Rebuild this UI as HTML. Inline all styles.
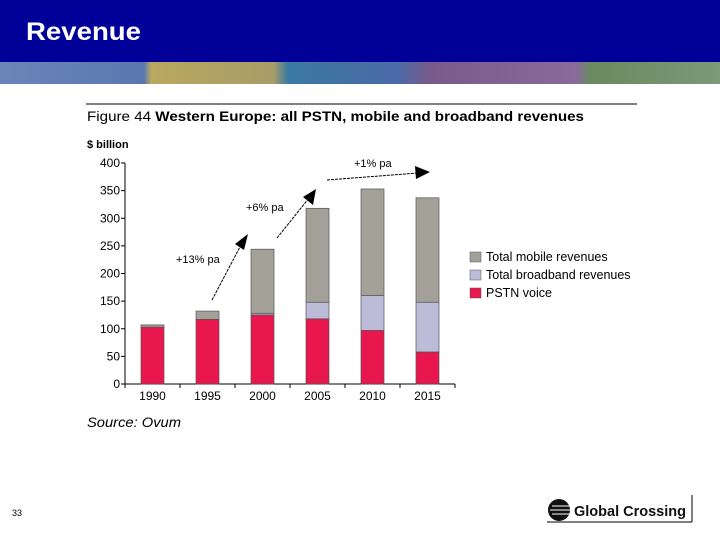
<!DOCTYPE html>
<html><head><meta charset="utf-8"><style>
body{margin:0;width:720px;height:540px;overflow:hidden;background:#fff;font-family:"Liberation Sans",sans-serif}
</style></head><body>
<svg width="720" height="540" xmlns="http://www.w3.org/2000/svg">
<defs>
<linearGradient id="strip" x1="0" x2="1" y1="0" y2="0">
<stop offset="0" stop-color="#6a86b8"/><stop offset="0.2" stop-color="#5a78b0"/>
<stop offset="0.21" stop-color="#b8a860"/><stop offset="0.38" stop-color="#a89c68"/>
<stop offset="0.4" stop-color="#3a7aa0"/><stop offset="0.55" stop-color="#4a6aa8"/>
<stop offset="0.6" stop-color="#7a5a8a"/><stop offset="0.8" stop-color="#8a6a9a"/>
<stop offset="0.82" stop-color="#6a8a60"/><stop offset="1" stop-color="#7a9a78"/>
</linearGradient>
</defs>
<rect x="0" y="0" width="720" height="62" fill="#000099"/>
<rect x="0" y="62" width="720" height="22" fill="url(#strip)"/>
<text x="26" y="40" font-size="25" font-weight="bold" fill="#fff" textLength="115" lengthAdjust="spacingAndGlyphs">Revenue</text>

<line x1="86" y1="104" x2="637" y2="104" stroke="#000" stroke-width="1"/>
<text x="87" y="121" font-size="14" fill="#000" textLength="497" lengthAdjust="spacingAndGlyphs">Figure 44 <tspan font-weight="bold">Western Europe: all PSTN, mobile and broadband revenues</tspan></text>
<text x="87" y="148" font-size="11" font-weight="bold" fill="#000">$ billion</text>

<g id="chart"></g>

<g font-size="11" fill="#000">
<text x="176" y="263">+13% pa</text>
<text x="246" y="211">+6% pa</text>
<text x="354" y="167">+1% pa</text>
</g>
<g stroke="#000" stroke-width="1" stroke-dasharray="3,1">
<line x1="212" y1="300" x2="241" y2="245"/>
<line x1="277" y1="238" x2="309" y2="198"/>
<line x1="327" y1="180" x2="418" y2="173"/>
</g>
<polygon points="248,234 244,250 235,244" fill="#000"/>
<polygon points="316,189 313,205 303,197" fill="#000"/>
<polygon points="430,172 416,179 415,166" fill="#000"/>

<g font-size="12.5" fill="#000">
<rect x="470" y="252" width="11" height="10" fill="#a3a098" stroke="#555" stroke-width="0.5"/>
<text x="486" y="261">Total mobile revenues</text>
<rect x="470" y="270" width="11" height="10" fill="#bcbcd8" stroke="#555" stroke-width="0.5"/>
<text x="486" y="279">Total broadband revenues</text>
<rect x="470" y="288" width="11" height="10" fill="#e8174e" stroke="#555" stroke-width="0.5"/>
<text x="486" y="297">PSTN voice</text>
</g>

<text x="87" y="427" font-size="14" font-style="italic" fill="#000" textLength="94" lengthAdjust="spacingAndGlyphs">Source: Ovum</text>
<text x="12" y="516" font-size="9" fill="#000">33</text>

<g>
<line x1="547" y1="522" x2="692" y2="522" stroke="#000"/>
<line x1="692" y1="495" x2="692" y2="522" stroke="#000"/>
<circle cx="559" cy="510" r="11" fill="#111"/>
<g stroke="#fff" stroke-width="1"><line x1="552" y1="506" x2="570" y2="506"/><line x1="550" y1="510" x2="570" y2="510"/><line x1="552" y1="514" x2="570" y2="514"/></g>
<text x="574" y="516" font-size="15" font-weight="bold" fill="#111" textLength="112" lengthAdjust="spacingAndGlyphs">Global Crossing</text>
</g>
</svg>
<script>
const categories=["1990","1995","2000","2005","2010","2015"];
const pstnValues=[103,117,125,118,97,58];
const broadbandValues=[0,0,3,30,63,90];
const mobileValues=[4,15,116,170,193,189];
const yTicks=[0,50,100,150,200,250,300,350,400];
const NS="http://www.w3.org/2000/svg";
const g=document.getElementById("chart");
const y0=384,y1=163,yMax=400,x0=125,x1=455;
function yScale(v){return y0-(v/yMax)*(y0-y1);}
function xScale(i){return x0+(x1-x0)/categories.length*(i+0.5);}
function mk(tag,attrs){const e=document.createElementNS(NS,tag);for(const k in attrs)e.setAttribute(k,attrs[k]);g.appendChild(e);return e;}
let ax=mk("line",{x1:x0,y1:y0,x2:x1,y2:y0,stroke:"#000"});


let ay=mk("line",{x1:x0,y1:y1,x2:x0,y2:y0,stroke:"#000"});


yTicks.forEach(t=>{
  const y=yScale(t);
  mk("line",{x1:x0-4,y1:y,x2:x0,y2:y,stroke:"#000"});
  const tx=mk("text",{x:x0-5,y:y+4,"font-size":"12","text-anchor":"end",fill:"#000"});
  tx.textContent=t;
  
  
});
for(let i=0;i<=categories.length;i++){const x=x0+(x1-x0)/categories.length*i;mk("line",{x1:x,y1:y0,x2:x,y2:y0+4,stroke:"#000"});}
const bw=23;
categories.forEach((c,i)=>{
  const cx=xScale(i);
  const segs=[[pstnValues[i],"#e8174e","bar-pstn-"],[broadbandValues[i],"#bcbcd8","bar-broadband-"],[mobileValues[i],"#a3a098","bar-mobile-"]];
  let base=0;
  segs.forEach(s=>{
    if(s[0]>0){
      const r=mk("rect",{x:cx-bw/2,y:yScale(base+s[0]),width:bw,height:yScale(base)-yScale(base+s[0]),fill:s[1],stroke:"#555","stroke-width":"0.7"});
      
      
    }
    base+=s[0];
  });
  const t=mk("text",{x:cx,y:y0+16,"font-size":"12","text-anchor":"middle",fill:"#000"});
  t.textContent=c;
  
  
});
</script>
</body></html>
